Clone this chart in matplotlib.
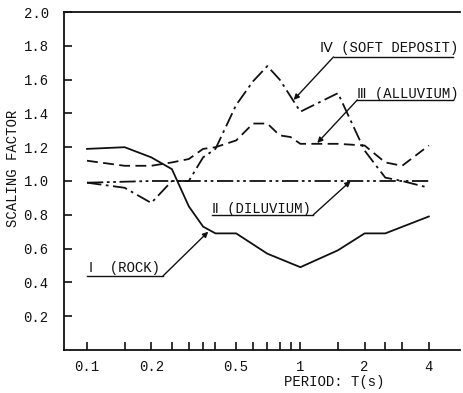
import matplotlib
matplotlib.use("Agg")
import matplotlib.pyplot as plt
from matplotlib.ticker import FixedLocator, NullFormatter, NullLocator

# === Data ===
periods_rock = [0.1, 0.15, 0.2, 0.25, 0.3, 0.35, 0.4, 0.5, 0.7, 1.0, 1.5, 2.0, 2.5, 4.0]
rock = [1.19, 1.20, 1.14, 1.07, 0.85, 0.73, 0.69, 0.69, 0.57, 0.49, 0.59, 0.69, 0.69, 0.79]

periods_dil = [0.1, 0.2, 0.5, 1.0, 2.0, 4.0]
diluvium = [0.99, 1.0, 1.0, 1.0, 1.0, 1.0]

periods_all = [0.1, 0.15, 0.2, 0.25, 0.3, 0.35, 0.4, 0.5, 0.6, 0.7, 0.8, 0.9,
               1.0, 1.5, 2.0, 2.5, 3.0, 4.0]
alluvium = [1.12, 1.09, 1.09, 1.11, 1.13, 1.19, 1.20, 1.24, 1.34, 1.34, 1.27, 1.26,
            1.22, 1.22, 1.21, 1.11, 1.09, 1.21]
soft = [0.99, 0.96, 0.87, 1.0, 1.0, 1.14, 1.19, 1.45, 1.59, 1.68, 1.60, 1.50,
        1.41, 1.52, 1.18, 1.02, 1.0, 0.96]

tick_periods = [0.1, 0.15, 0.2, 0.25, 0.3, 0.35, 0.4, 0.5, 0.6, 0.7, 0.8, 0.9,
                1.0, 1.5, 2.0, 2.5, 3.0, 4.0]
label_periods = [0.1, 0.2, 0.5, 1.0, 2.0, 4.0]
label_texts = ["0.1", "0.2", "0.5", "1", "2", "4"]
y_ticks = [0.2, 0.4, 0.6, 0.8, 1.0, 1.2, 1.4, 1.6, 1.8, 2.0]

MONO = ["Liberation Mono", "DejaVu Sans Mono", "DejaVu Sans"]
INK = "#111111"
plt.rcParams["font.family"] = MONO

fig = plt.figure(figsize=(4.64, 3.93), dpi=100)
ax = fig.add_axes([64 / 464, 43 / 393, 396 / 464, 338 / 393])

ax.plot(periods_rock, rock, color=INK, lw=1.3)
ax.plot(periods_dil, diluvium, color=INK, lw=1.3, dashes=(9, 2, 1.5, 2, 1.5, 2))
ax.plot(periods_all, alluvium, color=INK, lw=1.3, dashes=(6, 3))
ax.plot(periods_all, soft, color=INK, lw=1.3, dashes=(8, 2.5, 1.5, 2.5))

ax.set_xscale("log")
ax.set_xlim(0.078, 5.6)
ax.set_ylim(0, 2.0)

ax.xaxis.set_major_locator(FixedLocator(label_periods))
ax.xaxis.set_minor_locator(FixedLocator([p for p in tick_periods if p not in label_periods]))
ax.xaxis.set_minor_formatter(NullFormatter())
ax.set_xticklabels(label_texts)
ax.set_yticks(y_ticks)
ax.set_yticklabels(["%.1f" % v for v in y_ticks])
ax.yaxis.set_minor_locator(NullLocator())

ax.tick_params(axis="both", which="both", direction="in", color=INK, width=1.2,
               labelsize=10, labelcolor=INK)
ax.tick_params(axis="x", which="both", length=6, pad=7)
ax.tick_params(axis="y", length=6, pad=11)

for side in ["left", "bottom", "top"]:
    ax.spines[side].set_color(INK)
    ax.spines[side].set_linewidth(1.3)
ax.spines["right"].set_visible(False)

fig.text(334 / 464, 1 - 382 / 393, "PERIOD: T(s)", ha="center", va="center",
         fontsize=10, color=INK)
fig.text(13 / 464, 1 - 168 / 393, "SCALING FACTOR", ha="center", va="center",
         rotation=90, fontsize=10, color=INK)

# === Curve labels with underline and leader arrow ===
labels = [
    ("\u2163 (SOFT DEPOSIT)", (1.24, 1.787), (1.43, 5.18, 1.734), (0.93, 1.48)),
    ("\u2162 (ALLUVIUM)", (1.85, 1.515), (1.85, 5.18, 1.48), (1.20, 1.225)),
    ("\u2161 (DILUVIUM)", (0.386, 0.834), (0.386, 1.15, 0.80), (1.72, 1.0)),
    ("\u2160  (ROCK)", (0.102, 0.485), (0.1, 0.227, 0.438), (0.37, 0.70)),
]
for text, (tx, ty), (ux0, ux1, uy), tip in labels:
    ax.text(tx, ty, text, ha="left", va="center", fontsize=10, color=INK,
            family=MONO)
    ax.plot([ux0, ux1], [uy, uy], color=INK, lw=1.0)
    start = (ux1, uy) if tip[0] > ux1 else (ux0, uy)
    ax.annotate("", xy=tip, xytext=start,
                arrowprops=dict(arrowstyle="-|>", color=INK, lw=1.0,
                                mutation_scale=8, shrinkA=0, shrinkB=0))

fig.savefig("out.png", dpi=100, facecolor="white")
